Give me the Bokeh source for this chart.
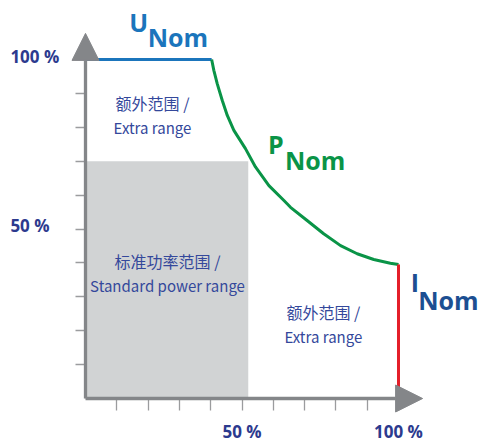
from bokeh.plotting import figure
from bokeh.models import Range1d, FixedTicker, Arrow, NormalHead, ColumnDataSource
from bokeh.core.properties import value
from bokeh.embed import file_html
from bokeh.resources import INLINE

# ---- data (percent of nominal) ----
tick_values = [50, 100]
tick_labels = ["50 %", "100 %"]
minor_values = [10, 20, 30, 40, 60, 70, 80, 90]

u_x = [0, 40.3]
u_y = [100, 100]
p_x = [40.3, 41.0, 42.1, 43.7, 45.3, 47.4, 51.1, 54.3, 58.6, 63.4, 65.5, 70.8, 76.1, 81.5, 86.8, 92.1, 97.4, 100]
p_y = [100, 96.8, 92.8, 87.9, 83.5, 79.1, 73.7, 68.3, 62.8, 58.4, 56.4, 52.5, 48.6, 45.1, 42.7, 41.0, 39.9, 39.5]
i_x = [100, 100]
i_y = [39.5, 0]

std_x = [0, 52]
std_y = [0, 70]

region_cn = ["额外范围 /", "标准功率范围 /", "额外范围 /"]
region_en = ["Extra range", "Standard power range", "Extra range"]
region_cx = [21.4, 26.2, 76.0]
region_cn_y = [87.3, 40.6, 25.4]
region_en_y = [80.0, 33.2, 18.2]

nom_main = ["U", "P", "I"]
nom_main_x = [14.0, 58.3, 103.9]
nom_main_y = [111.2, 75.2, 34.5]
nom_sub_x = [19.9, 63.7, 106.3]
nom_sub_y = [106.7, 70.4, 29.1]
nom_colors = ["#1b75bc", "#0a9447", "#1c4f92"]

GRAY = "#848689"
NAVY = "#2c3a8e"
TEXT = "#34489b"

p = figure(width=479, height=443, output_backend="svg", toolbar_location=None,
           x_range=Range1d(-27.16, 125.88), y_range=Range1d(-13.27, 117.40),
           min_border_left=0, min_border_bottom=0, min_border_top=0, min_border_right=0)
p.outline_line_color = None
p.xgrid.visible = False
p.ygrid.visible = False
p.background_fill_color = "white"
p.border_fill_color = "white"

for ax, out in ((p.xaxis[0], 12), (p.yaxis[0], 10)):
    ax.fixed_location = 0
    ax.ticker = FixedTicker(ticks=tick_values, minor_ticks=minor_values)
    ax.axis_line_color = None
    ax.major_tick_out = out
    ax.major_tick_in = 0
    ax.minor_tick_out = out
    ax.minor_tick_in = 0
    ax.major_tick_line_color = "#9b9c9e"
    ax.minor_tick_line_color = "#9b9c9e"
    ax.major_tick_line_width = 1.3
    ax.minor_tick_line_width = 1.3
    ax.major_label_text_font = "Open Sans"
    ax.major_label_text_font_style = "bold"
    ax.major_label_text_font_size = "17px"
    ax.major_label_text_color = NAVY
p.xaxis[0].major_label_overrides = {v: l for v, l in zip(tick_values, tick_labels)}
p.xaxis[0].major_label_standoff = 9
# y labels are left-aligned in the original, drawn below as text
p.yaxis[0].major_label_overrides = {v: "" for v in tick_values}

p.text([-24.0] * len(tick_values), [v + 0.9 for v in tick_values], text=tick_labels,
       text_font=value("Open Sans"), text_font_style="bold", text_font_size="17px",
       text_color=NAVY, text_align="left", text_baseline="middle")

# standard power range
p.quad(left=[std_x[0]], right=[std_x[1]], bottom=[std_y[0]], top=[std_y[1]],
       fill_color="#d1d3d4", line_color=None)

# curves
p.line(u_x, u_y, line_color="#1b75bc", line_width=3)
p.line(p_x, p_y, line_color="#0a9447", line_width=3, line_join="round")
p.line(i_x, i_y, line_color="#e41f2a", line_width=3)

# axes with arrow heads
p.add_layout(Arrow(x_start=0, y_start=0, x_end=0, y_end=107.7,
                   line_color=GRAY, line_width=3.3,
                   end=NormalHead(size=27, fill_color=GRAY, line_color=GRAY, line_width=1)))
p.add_layout(Arrow(x_start=0, y_start=0, x_end=107.7, y_end=0,
                   line_color=GRAY, line_width=3.3,
                   end=NormalHead(size=27, fill_color=GRAY, line_color=GRAY, line_width=1)))

# region labels
p.text(region_cx, region_cn_y, text=region_cn, text_font=value("Noto Sans CJK SC"),
       text_font_size="16px", text_color=TEXT, text_align="center", text_baseline="middle")
p.text(region_cx, region_en_y, text=region_en, text_font=value("Noto Sans CJK SC"),
       text_font_size="15px", text_color=TEXT, text_align="center", text_baseline="middle")

# nominal labels
src = ColumnDataSource(dict(mx=nom_main_x, my=nom_main_y, sx=nom_sub_x, sy=nom_sub_y,
                            t=nom_main, c=nom_colors, n=["Nom"] * 3))
p.text("mx", "my", text="t", source=src, text_color="c", text_font=value("Open Sans"),
       text_font_style="bold", text_font_size="25px", text_baseline="alphabetic")
p.text("sx", "sy", text="n", source=src, text_color="c", text_font=value("Open Sans"),
       text_font_style="bold", text_font_size="25px", text_baseline="alphabetic")

open("out.html", "w").write(file_html(p, INLINE))
